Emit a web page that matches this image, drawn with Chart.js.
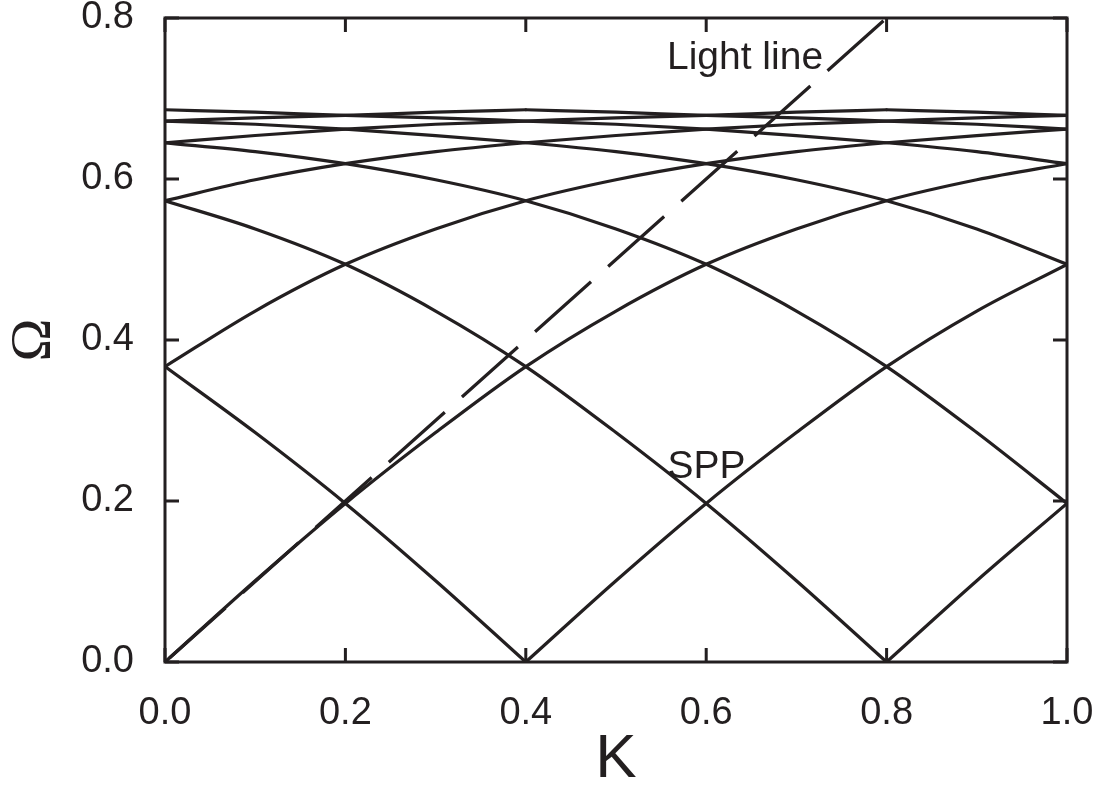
<!DOCTYPE html>
<html>
<head>
<meta charset="utf-8">
<script src="https://cdn.jsdelivr.net/npm/chart.js@4.4.1/dist/chart.umd.min.js"></script>
<style>
  html, body { margin: 0; padding: 0; background: #fff; }
  #wrap { width: 1105px; height: 791px; }
</style>
</head>
<body>
<div id="wrap"><canvas id="chartSpp" width="1105" height="791"></canvas></div>
<script>
// SPP dispersion (extended zone, k = 0 .. 2.0)
const kGrid = [0, 0.1, 0.2, 0.3, 0.4, 0.5, 0.6, 0.7, 0.8, 0.9, 1.0,
               1.1, 1.2, 1.3, 1.4, 1.5, 1.6, 1.7, 1.8, 1.9, 2.0];
const sppOmega = [0, 0.101, 0.197, 0.285, 0.367, 0.436, 0.494, 0.538, 0.573, 0.599, 0.619,
                  0.634, 0.645, 0.654, 0.662, 0.668, 0.672, 0.676, 0.679, 0.683, 0.686];
const foldPeriod = 0.4;

// light line
const lightK = [0, 0.8];
const lightOmega = [0, 0.8];

// axes
const kTicks = [0, 0.2, 0.4, 0.6, 0.8, 1.0];
const omegaTicks = [0, 0.2, 0.4, 0.6, 0.8];

const ink = '#231f20';
const sans = '"Liberation Sans", Arial, sans-serif';

// fold the dispersion back into K = 0..1
function buildBranches() {
  const branches = [];
  [1, -1].forEach(sign => {
    for (let n = -6; n <= 8; n++) {
      const pts = [];
      kGrid.forEach((k, i) => {
        const K = Math.round((sign * k + foldPeriod * n) * 10) / 10;
        if (K >= 0 && K <= 1) pts.push({ x: K, y: sppOmega[i] });
      });
      if (pts.length > 1) {
        pts.sort((a, b) => a.x - b.x);
        branches.push(pts);
      }
    }
  });
  return branches;
}

// frame, inward ticks and the two labels inside the plot
const framePlugin = {
  id: 'frame',
  afterDraw(chart) {
    const { ctx, chartArea: a, scales } = chart;
    ctx.save();
    ctx.strokeStyle = ink;
    ctx.lineWidth = 3;
    ctx.strokeRect(a.left, a.top, a.right - a.left, a.bottom - a.top);

    ctx.beginPath();
    kTicks.forEach(v => {
      const x = scales.x.getPixelForValue(v);
      ctx.moveTo(x, a.bottom); ctx.lineTo(x, a.bottom - 14);
      ctx.moveTo(x, a.top); ctx.lineTo(x, a.top + 14);
    });
    omegaTicks.forEach(v => {
      const y = scales.y.getPixelForValue(v);
      ctx.moveTo(a.left, y); ctx.lineTo(a.left + 14, y);
      ctx.moveTo(a.right, y); ctx.lineTo(a.right - 14, y);
    });
    ctx.stroke();

    ctx.fillStyle = ink;
    ctx.font = '39px ' + sans;
    ctx.textAlign = 'left';
    ctx.textBaseline = 'alphabetic';
    ctx.fillText('Light line', scales.x.getPixelForValue(0.5565), scales.y.getPixelForValue(0.737));
    ctx.fillText('SPP', scales.x.getPixelForValue(0.557), scales.y.getPixelForValue(0.228));
    ctx.restore();
  }
};

function drawChart() {
  const datasets = buildBranches().map(pts => ({
    data: pts,
    borderColor: ink,
    borderWidth: 3.2,
    borderCapStyle: 'round',
    pointRadius: 0,
    fill: false,
    cubicInterpolationMode: 'monotone'
  }));

  datasets.push({
    data: lightK.map((k, i) => ({ x: k, y: lightOmega[i] })),
    borderColor: ink,
    borderWidth: 3.2,
    borderDash: [75, 23],
    borderDashOffset: 92,
    pointRadius: 0,
    fill: false
  });

  new Chart(document.getElementById('chartSpp'), {
    type: 'line',
    data: { datasets: datasets },
    plugins: [framePlugin],
    options: {
      responsive: false,
      animation: false,
      layout: { padding: { top: 18, right: 38, left: 0, bottom: 0 } },
      plugins: { legend: { display: false }, tooltip: { enabled: false } },
      scales: {
        x: {
          type: 'linear',
          min: 0,
          max: 1,
          afterBuildTicks: s => { s.ticks = kTicks.map(v => ({ value: v })); },
          afterFit: s => { s.height = 129; s.paddingLeft = 0; s.paddingRight = 0; },
          grid: { display: false },
          border: { display: false },
          ticks: {
            color: ink,
            padding: 21,
            maxRotation: 0,
            font: { family: sans, size: 38 },
            callback: v => v.toFixed(1)
          },
          title: {
            display: true,
            text: 'K',
            color: ink,
            padding: 0,
            font: { family: sans, size: 62, lineHeight: 1 }
          }
        },
        y: {
          type: 'linear',
          min: 0,
          max: 0.8,
          afterBuildTicks: s => { s.ticks = omegaTicks.map(v => ({ value: v })); },
          afterFit: s => { s.width = 165; s.paddingTop = 0; s.paddingBottom = 0; },
          grid: { display: false },
          border: { display: false },
          ticks: {
            color: ink,
            padding: 23,
            font: { family: sans, size: 38 },
            callback: v => v.toFixed(1)
          },
          title: {
            display: true,
            text: 'Ω',
            color: ink,
            padding: 0,
            font: { family: '"Liberation Serif", "Times New Roman", serif', size: 58 }
          }
        }
      }
    }
  });
}

document.addEventListener('DOMContentLoaded', drawChart);
</script>
</body>
</html>
